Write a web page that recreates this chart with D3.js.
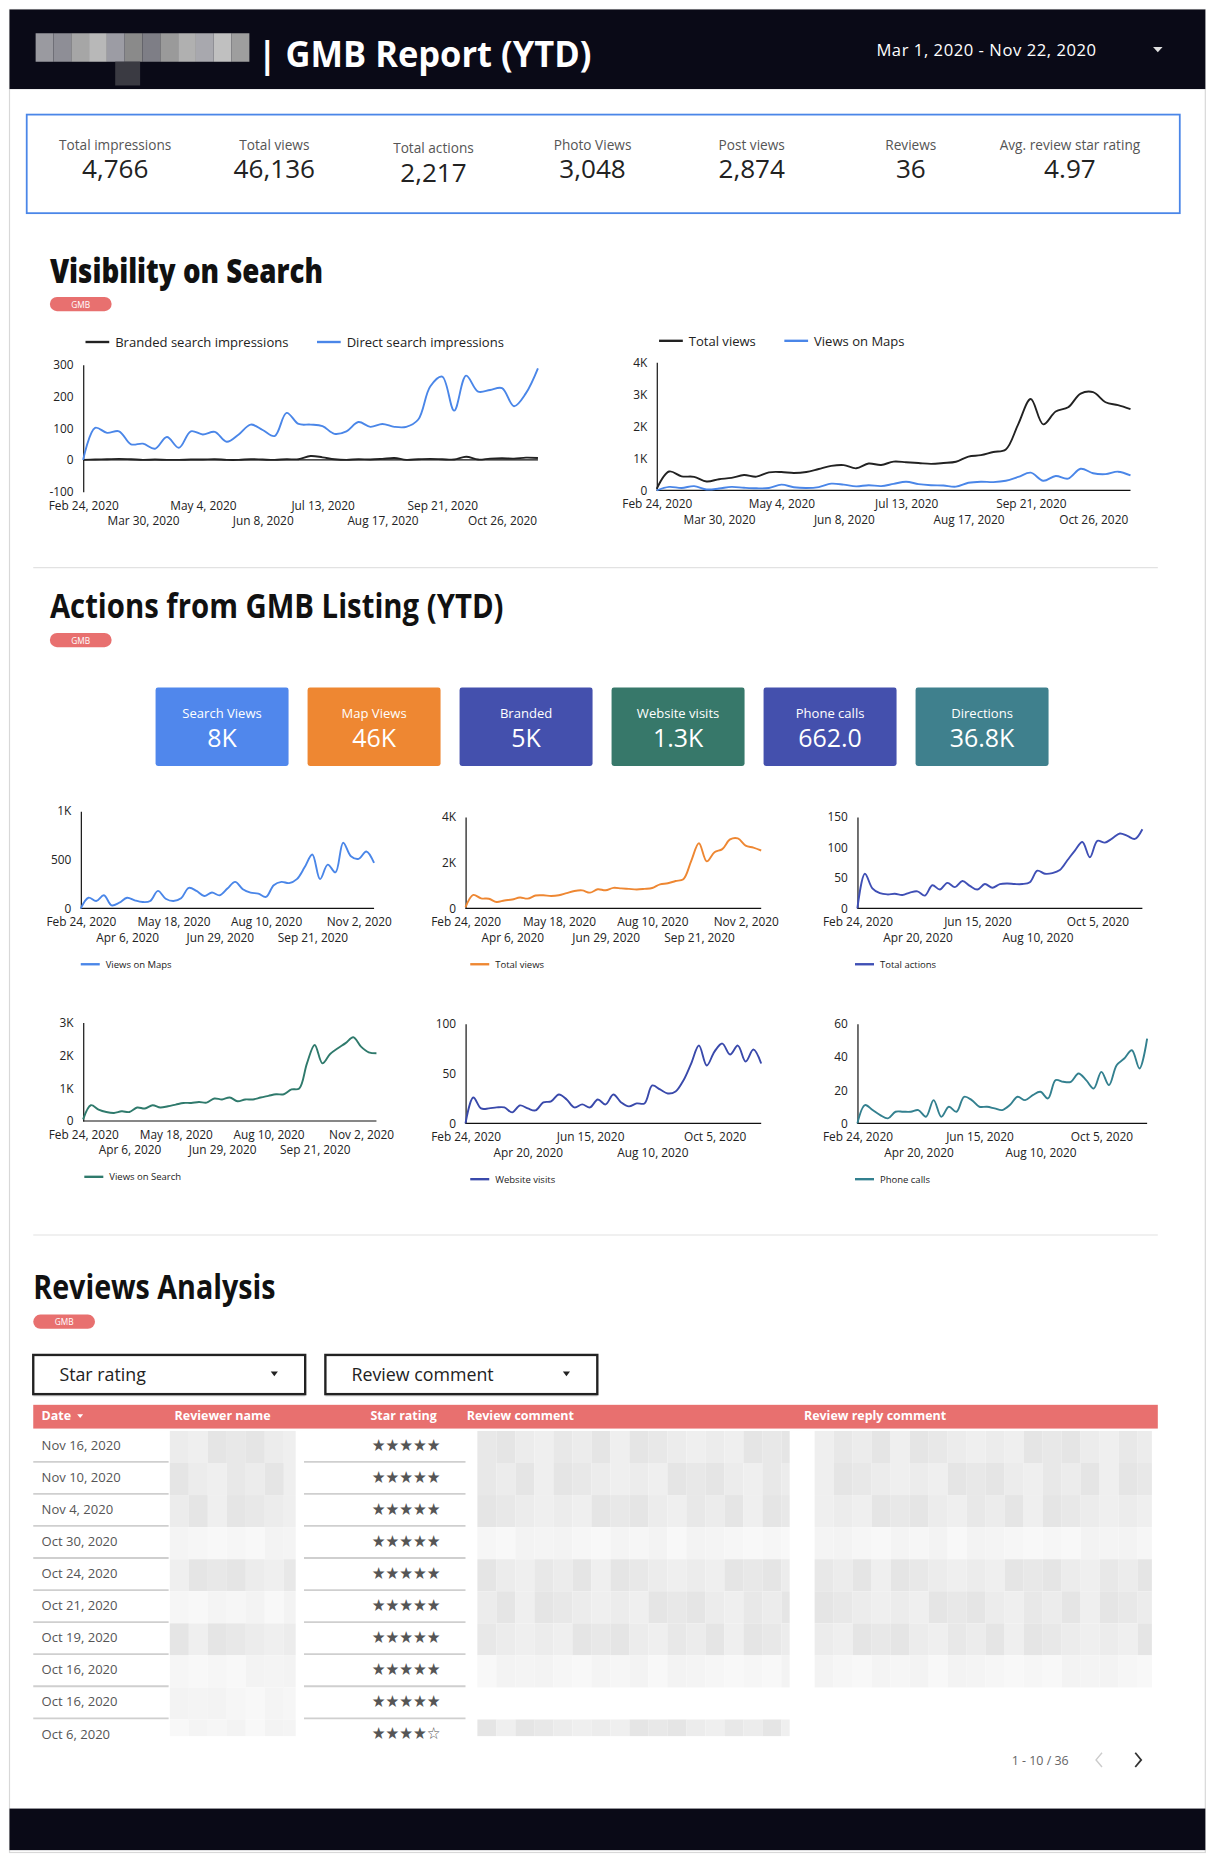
<!DOCTYPE html>
<html>
<head>
<meta charset="utf-8">
<script src="https://cdn.jsdelivr.net/npm/d3@7"></script>
<style>
html, body { margin: 0; padding: 0; background: #fff; overflow: hidden; }
svg { display: block; font-family: "Open Sans", sans-serif; }
</style>
</head>
<body>
<svg id="page"></svg>
<script>
"use strict";
// weekly buckets (Mondays) covering Mar 1 - Nov 22, 2020
var weeks = d3.timeMonday.range(new Date(2020, 1, 24), new Date(2020, 10, 17));

var brandedImpr = [0,1,2,3,2,0,1,0,0,1, 1,2,0,0,2,1,0,2,2,12, 8,2,0,2,1,3,6,0,2,3, 2,1,10,1,4,5,4,7,6];
var directImpr = [0,101,85,90,49,51,35,72,38,90, 80,88,57,80,111,94,75,148,113,111, 106,82,90,119,104,113,104,104,127,231, 262,155,265,215,220,226,169,210,288];
var totalViews = [50,590,440,425,280,350,390,480,430,565, 575,545,575,670,765,790,690,840,795,900, 880,855,830,855,895,1055,1100,1200,1280,2070, 2850,2060,2460,2595,3020,3065,2750,2660,2535];
var mapViews = [0,110,76,135,31,59,110,83,66,76, 180,100,76,104,211,180,128,163,135,204, 273,197,163,152,118,239,273,260,301,422, 554,301,450,370,675,536,509,585,467];
var searchViews = [50,480,350,275,245,295,275,410,380,480, 410,450,500,550,550,580,560,685,655,715, 600,655,655,715,765,815,815,960,990,1755, 2315,1755,2040,2215,2370,2550,2265,2090,2060];
var totalActions = [0,57,33,25,23,24,22,26,28,21, 38,31,42,35,45,37,31,40,34,40, 41,40,40,43,62,57,58,63,79,95, 109,84,111,108,115,123,119,114,130];
var websiteVisits = [0,26,15,15,16,16,11,18,15,13, 21,22,29,24,16,19,16,24,19,29, 21,17,20,20,38,34,30,32,43,60, 78,58,72,80,69,78,62,74,60];
var phoneCalls = [0,11,8,5,3,7,7,7,8,4, 14,4,10,7,16,14,10,10,9,8, 11,16,14,17,19,15,26,25,25,30, 26,21,31,23,35,39,44,33,51];

var kpiLabels = ["Total impressions", "Total views", "Total actions", "Photo Views", "Post views", "Reviews", "Avg. review star rating"];
var kpiValues = ["4,766", "46,136", "2,217", "3,048", "2,874", "36", "4.97"];

var tileLabels = ["Search Views", "Map Views", "Branded", "Website visits", "Phone calls", "Directions"];
var tileValues = ["8K", "46K", "5K", "1.3K", "662.0", "36.8K"];
var tileColors = ["#5087ec", "#ee8732", "#4450ad", "#37786a", "#4450ad", "#3f808d"];

// x tick dates
var ticks5w = ["2020-02-24","2020-03-30","2020-05-04","2020-06-08","2020-07-13","2020-08-17","2020-09-21","2020-10-26"];
var ticks6w = ["2020-02-24","2020-04-06","2020-05-18","2020-06-29","2020-08-10","2020-09-21","2020-11-02"];
var ticks8w = ["2020-02-24","2020-04-20","2020-06-15","2020-08-10","2020-10-05"];

var reviewDates = ["Nov 16, 2020","Nov 10, 2020","Nov 4, 2020","Oct 30, 2020","Oct 24, 2020","Oct 21, 2020","Oct 19, 2020","Oct 16, 2020","Oct 16, 2020","Oct 6, 2020"];
var reviewStars = [5,5,5,5,5,5,5,5,5,4];
var tableCols = ["Reviewer name", "Star rating", "Review comment", "Review reply comment"];

var parseDay = d3.timeParse("%Y-%m-%d");
var fmtDay = d3.timeFormat("%b %-d, %Y");
var fmtK = function (v) { return v >= 1000 ? (v / 1000) + "K" : v; };

// drawing in a 1024-wide space, scaled up to the window
var svg = d3.select("#page")
    .attr("width", 1216)
    .attr("height", 1864)
    .attr("viewBox", "0 0 1024 1569.68");

svg.append("rect").attr("x", 8).attr("y", 8).attr("width", 1007).attr("height", 1552)
    .attr("fill", "#fff").attr("stroke", "#d8d8d8");

// header
svg.append("rect").attr("x", 8).attr("y", 8).attr("width", 1007).attr("height", 67).attr("fill", "#0a0a17");
var logoShades = ["#9a9aa0","#8e8e96","#a6a6a6","#b8b8b8","#9c9ca4","#8a8a8a","#7e7e86","#9a9a9a","#b0b0b0","#a8a8ae","#c0c0c0","#9e9e9e"];
svg.selectAll("rect.logo")
    .data(logoShades)
    .enter()
    .append("rect")
    .attr("class", "logo")
    .attr("x", function (d, i) { return 30 + i * 15; })
    .attr("y", 28)
    .attr("width", 15)
    .attr("height", 24)
    .attr("fill", function (d) { return d; });
svg.append("rect").attr("x", 97).attr("y", 52).attr("width", 21).attr("height", 20).attr("fill", "#3a3a42");
svg.append("text").attr("x", 217).attr("y", 56).attr("fill", "#fff")
    .attr("font-size", 30).attr("font-weight", 700)
    .attr("textLength", 281).attr("lengthAdjust", "spacingAndGlyphs")
    .text("| GMB Report (YTD)");
svg.append("text").attr("x", 738).attr("y", 47).attr("fill", "#fff")
    .attr("font-size", 14).attr("textLength", 185)
    .text("Mar 1, 2020 - Nov 22, 2020");
svg.append("path").attr("d", "M971,39.5L979,39.5L975,44Z").attr("fill", "#e0e0e0");

// KPI box
svg.append("rect").attr("x", 22.5).attr("y", 96.5).attr("width", 971).attr("height", 83)
    .attr("fill", "#fff").attr("stroke", "#4a86e8").attr("stroke-width", 1.5);
var kpi = svg.selectAll("g.kpi")
    .data(kpiLabels)
    .enter()
    .append("g")
    .attr("class", "kpi")
    .attr("transform", function (d, i) { return "translate(" + (97 + i * 134) + "," + (i === 2 ? 3 : 0) + ")"; });
kpi.append("text").attr("y", 126).attr("text-anchor", "middle").attr("font-size", 11.5).attr("fill", "#555")
    .text(function (d) { return d; });
kpi.append("text").attr("y", 150).attr("text-anchor", "middle").attr("font-size", 22).attr("fill", "#222")
    .text(function (d, i) { return kpiValues[i]; });

function sectionTitle(x, y, label, len, weight) {
    svg.append("text").attr("x", x).attr("y", y).attr("fill", "#111")
        .attr("font-size", 28).attr("font-weight", weight)
        .attr("textLength", len).attr("lengthAdjust", "spacingAndGlyphs")
        .text(label);
}
function pill(x, y) {
    svg.append("rect").attr("x", x).attr("y", y).attr("width", 52).attr("height", 12).attr("rx", 6).attr("fill", "#e8706f");
    svg.append("text").attr("x", x + 26).attr("y", y + 9).attr("text-anchor", "middle")
        .attr("font-size", 7).attr("fill", "#fff").text("GMB");
}
function divider(y) {
    svg.append("line").attr("x1", 28).attr("x2", 975).attr("y1", y).attr("y2", y)
        .attr("stroke", "#e2e2e2").attr("stroke-width", 1);
}

// line chart with alternating date labels
function lineChart(c) {
    var g = svg.append("g");
    var x = d3.scaleTime().domain(d3.extent(weeks)).range([c.x0, c.x1]);
    var y = d3.scaleLinear().domain(c.domain).range([c.yBot, c.yTop]);

    var gy = g.append("g")
        .attr("transform", "translate(" + c.x0 + ",0)")
        .call(d3.axisLeft(y).tickValues(c.yTicks).tickSize(0).tickPadding(8).tickFormat(fmtK));
    gy.attr("font-family", null).attr("font-size", 10).attr("color", "#222");
    gy.select(".domain").attr("stroke", "#111");

    var gx = g.append("g")
        .attr("transform", "translate(0," + c.yBot + ")")
        .call(d3.axisBottom(x).tickValues(c.xTicks.map(parseDay)).tickSize(0).tickPadding(8).tickFormat(fmtDay));
    gx.attr("font-family", null).attr("font-size", 10).attr("color", "#222");
    gx.select(".domain").remove();
    gx.selectAll(".tick text").attr("dy", function (d, i) { return i % 2 ? "2.0em" : "0.71em"; });

    g.append("line")
        .attr("x1", c.x0).attr("x2", c.x1)
        .attr("y1", y(0)).attr("y2", y(0))
        .attr("stroke", "#111").attr("stroke-width", 1);

    var line = d3.line()
        .x(function (d, i) { return x(weeks[i]); })
        .y(function (d) { return y(d); })
        .curve(d3.curveCatmullRom.alpha(0.5));
    c.series.forEach(function (s) {
        g.append("path")
            .datum(s.values)
            .attr("d", line)
            .attr("fill", "none")
            .attr("stroke", s.color)
            .attr("stroke-width", 1.6);
    });

    // legend
    var lx = c.legendX;
    c.series.forEach(function (s) {
        if (!s.label) return;
        var big = c.legendSize > 9;
        var len = big ? 20 : 16;
        g.append("line").attr("x1", lx).attr("x2", lx + len).attr("y1", c.legendY).attr("y2", c.legendY)
            .attr("stroke", s.color).attr("stroke-width", 2);
        var t = g.append("text").attr("x", lx + len + 5).attr("y", c.legendY + c.legendSize * 0.36)
            .attr("font-size", c.legendSize).attr("fill", "#222").text(s.label);
        lx = lx + len + 5 + t.node().getComputedTextLength() + (big ? 24 : 0);
    });
}

// Visibility on Search
sectionTitle(42, 238, "Visibility on Search", 230, 800);
pill(42, 250);

lineChart({
    x0: 70, x1: 453, yTop: 307, yBot: 414,
    domain: [-100, 300], yTicks: [-100, 0, 100, 200, 300], xTicks: ticks5w,
    series: [
        { values: brandedImpr, color: "#222", label: "Branded search impressions" },
        { values: directImpr, color: "#4a86e8", label: "Direct search impressions" }
    ],
    legendX: 72, legendY: 288, legendSize: 11
});
lineChart({
    x0: 553, x1: 952, yTop: 305, yBot: 413,
    domain: [0, 4000], yTicks: [0, 1000, 2000, 3000, 4000], xTicks: ticks5w,
    series: [
        { values: totalViews, color: "#222", label: "Total views" },
        { values: mapViews, color: "#4a86e8", label: "Views on Maps" }
    ],
    legendX: 555, legendY: 287, legendSize: 11
});

divider(478);

// Actions from GMB Listing
sectionTitle(42, 520, "Actions from GMB Listing (YTD)", 382, 700);
pill(42, 533);

var tiles = svg.selectAll("g.tile")
    .data(tileLabels)
    .enter()
    .append("g")
    .attr("class", "tile")
    .attr("transform", function (d, i) { return "translate(" + (131 + i * 128) + ",579)"; });
tiles.append("rect").attr("width", 112).attr("height", 66).attr("rx", 2)
    .attr("fill", function (d, i) { return tileColors[i]; });
tiles.append("text").attr("x", 56).attr("y", 26).attr("text-anchor", "middle")
    .attr("font-size", 11).attr("fill", "#fff").text(function (d) { return d; });
tiles.append("text").attr("x", 56).attr("y", 50).attr("text-anchor", "middle")
    .attr("font-size", 21).attr("fill", "#fff").text(function (d, i) { return tileValues[i]; });

lineChart({
    x0: 68, x1: 315, yTop: 683, yBot: 765,
    domain: [0, 1000], yTicks: [0, 500, 1000], xTicks: ticks6w,
    series: [{ values: mapViews, color: "#4a86e8", label: "Views on Maps" }],
    legendX: 68, legendY: 812, legendSize: 8
});
lineChart({
    x0: 392, x1: 641, yTop: 688, yBot: 765,
    domain: [0, 4000], yTicks: [0, 2000, 4000], xTicks: ticks6w,
    series: [{ values: totalViews, color: "#ee8732", label: "Total views" }],
    legendX: 396, legendY: 812, legendSize: 8
});
lineChart({
    x0: 722, x1: 962, yTop: 688, yBot: 765,
    domain: [0, 150], yTicks: [0, 50, 100, 150], xTicks: ticks8w,
    series: [{ values: totalActions, color: "#3f4fb5", label: "Total actions" }],
    legendX: 720, legendY: 812, legendSize: 8
});
lineChart({
    x0: 70, x1: 317, yTop: 861, yBot: 944,
    domain: [0, 3000], yTicks: [0, 1000, 2000, 3000], xTicks: ticks6w,
    series: [{ values: searchViews, color: "#2f7a6c", label: "Views on Search" }],
    legendX: 71, legendY: 991, legendSize: 8
});
lineChart({
    x0: 392, x1: 641, yTop: 862, yBot: 946,
    domain: [0, 100], yTicks: [0, 50, 100], xTicks: ticks8w,
    series: [{ values: websiteVisits, color: "#3949ab", label: "Website visits" }],
    legendX: 396, legendY: 993, legendSize: 8
});
lineChart({
    x0: 722, x1: 966, yTop: 862, yBot: 946,
    domain: [0, 60], yTicks: [0, 20, 40, 60], xTicks: ticks8w,
    series: [{ values: phoneCalls, color: "#33808f", label: "Phone calls" }],
    legendX: 720, legendY: 993, legendSize: 8
});

divider(1040);

// Reviews Analysis
sectionTitle(28, 1094, "Reviews Analysis", 204, 700);
pill(28, 1107);

[["Star rating", 28], ["Review comment", 274]].forEach(function (d) {
    svg.append("rect").attr("x", d[1]).attr("y", 1143).attr("width", 229).attr("height", 33).attr("fill", "#ddd");
    svg.append("rect").attr("x", d[1]).attr("y", 1141).attr("width", 229).attr("height", 33)
        .attr("fill", "#fff").attr("stroke", "#222").attr("stroke-width", 2);
    svg.append("text").attr("x", d[1] + 22).attr("y", 1163).attr("font-size", 15).attr("fill", "#222").text(d[0]);
    svg.append("path").attr("d", "M" + (d[1] + 200) + ",1155L" + (d[1] + 206) + ",1155L" + (d[1] + 203) + ",1159Z").attr("fill", "#222");
});

// table header
svg.append("rect").attr("x", 28).attr("y", 1183).attr("width", 947).attr("height", 20).attr("fill", "#e8706f");
svg.append("text").attr("x", 35).attr("y", 1196).attr("font-size", 10.5).attr("font-weight", 700).attr("fill", "#fff").text("Date");
svg.append("path").attr("d", "M65,1191L70,1191L67.5,1194Z").attr("fill", "#fff");
svg.selectAll("text.colhead")
    .data(tableCols)
    .enter()
    .append("text")
    .attr("class", "colhead")
    .attr("x", function (d, i) { return [147, 312, 393, 677][i]; })
    .attr("y", 1196)
    .attr("font-size", 10.5)
    .attr("font-weight", 700)
    .attr("fill", "#fff")
    .text(function (d) { return d; });

// blurred (redacted) cells
var blurCols = [[143, 249], [402, 665], [686, 970]];
var blurLevel = [
    [2, 2, 2, 1, 2, 1, 2, 1, 1, 1],
    [2, 2, 2, 1, 2, 2, 2, 1, 0, 2],
    [2, 2, 2, 1, 2, 2, 2, 1, 0, 0]
];
var mosaic = [0, 2, 1, 3, 1, 0, 2, 3, 0, 1, 2, 1, 3, 0, 2];
var shades = { 1: ["#f6f6f6", "#f3f3f3", "#f8f8f8", "#f4f4f4"], 2: ["#ececec", "#e5e5e5", "#efefef", "#e8e8e8"] };
blurCols.forEach(function (col, ci) {
    reviewDates.forEach(function (d, r) {
        var lvl = blurLevel[ci][r];
        if (!lvl) return;
        d3.range(col[0], col[1], 16).forEach(function (cx, k) {
            svg.append("rect")
                .attr("x", cx).attr("y", 1205 + r * 27)
                .attr("width", Math.min(16, col[1] - cx))
                .attr("height", r === 9 ? 14 : 27)
                .attr("fill", shades[lvl][mosaic[(k + r * 4 + ci * 3) % mosaic.length] % 4]);
        });
    });
});

var rows = svg.selectAll("g.row")
    .data(reviewDates)
    .enter()
    .append("g")
    .attr("class", "row")
    .attr("transform", function (d, i) { return "translate(0," + (1204 + i * 27) + ")"; });
rows.append("text").attr("x", 35).attr("y", 17).attr("font-size", 11).attr("fill", "#555")
    .text(function (d) { return d; });
rows.append("text").attr("x", 313).attr("y", 17.5).attr("font-size", 14).attr("fill", "#555")
    .attr("font-family", "DejaVu Sans")
    .attr("textLength", 58).attr("lengthAdjust", "spacingAndGlyphs")
    .text(function (d, i) { return d3.range(5).map(function (k) { return k < reviewStars[i] ? "\u2605" : "\u2606"; }).join(""); });
rows.filter(function (d, i) { return i < 9; }).each(function () {
    var r = d3.select(this);
    [[28, 142], [256, 392]].forEach(function (s) {
        r.append("line").attr("x1", s[0]).attr("x2", s[1]).attr("y1", 27).attr("y2", 27)
            .attr("stroke", "#cfcfcf").attr("stroke-width", 1.5);
    });
});

// pagination
svg.append("text").attr("x", 900).attr("y", 1486).attr("text-anchor", "end")
    .attr("font-size", 10.5).attr("fill", "#666").text("1 - 10 / 36");
svg.append("polyline").attr("points", "928,1476 923,1482 928,1488").attr("fill", "none").attr("stroke", "#ccc").attr("stroke-width", 1.2);
svg.append("polyline").attr("points", "956,1476 961,1482 956,1488").attr("fill", "none").attr("stroke", "#333").attr("stroke-width", 1.5);

// footer
svg.append("rect").attr("x", 8).attr("y", 1523).attr("width", 1007).attr("height", 35).attr("fill", "#0a0a17");
</script>
</body>
</html>
